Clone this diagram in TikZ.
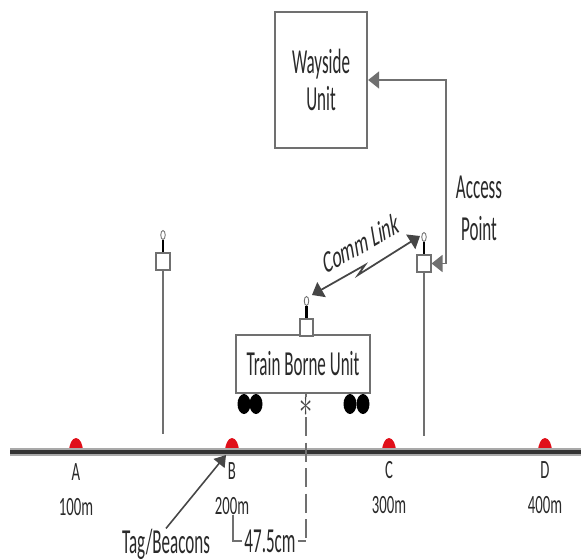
\documentclass[tikz,border=0pt]{standalone}
\usepackage{fontspec}
\setmainfont{Carlito}
\usetikzlibrary{arrows.meta,shapes.geometric}
\newcommand{\tallbig}[1]{\scalebox{0.485}[1]{\fontsize{20}{22}\selectfont #1}}
\newcommand{\tallsmall}[1]{\scalebox{0.56}[1]{\fontsize{15}{17}\selectfont #1}}
\definecolor{linegray}{HTML}{707070}
\definecolor{tipgray}{HTML}{464646}
\definecolor{inkgray}{HTML}{2A2A2A}
\definecolor{beaconred}{HTML}{E0101A}

\begin{document}
\begin{tikzpicture}[x=0.02cm, y=-0.02cm,
  unitbox/.style={draw=linegray, line width=1.3pt, fill=white, inner sep=0pt, align=center, text=inkgray},
  radiobox/.style={draw=linegray, line width=0.9pt, fill=white, inner sep=0pt, minimum width=0.27cm, minimum height=0.35cm},
  antennatip/.style={draw=linegray, line width=0.5pt, fill=white, ellipse, inner sep=0pt, minimum width=0.09cm, minimum height=0.18cm},
  txt/.style={inner sep=0pt, text=inkgray, align=center},
  link/.style={draw=linegray, line width=0.9pt},
  sig/.style={draw=tipgray, line width=1pt, {Triangle[length=2.2mm,width=3.4mm]}-{Triangle[length=2.2mm,width=3.4mm]}},
]
\useasboundingbox (0,0) rectangle (581,560);
% beacons
\fill[beaconred] (69,452) arc[x radius=7, y radius=14, start angle=180, end angle=360] -- cycle;
\fill[beaconred] (225,452) arc[x radius=7, y radius=14, start angle=180, end angle=360] -- cycle;
\fill[beaconred] (382,452) arc[x radius=7, y radius=14, start angle=180, end angle=360] -- cycle;
\fill[beaconred] (538,452) arc[x radius=7, y radius=14, start angle=180, end angle=360] -- cycle;
% track
\draw[linegray!60, line width=4.4pt] (10,452) -- (581,452);
\draw[black!80, line width=2.6pt] (10,452) -- (581,452);
% units
\node[unitbox, minimum width=1.84cm, minimum height=2.72cm] (wayside) at (321,80) {\tallbig{Wayside}\\[3pt]\tallbig{Unit}};
\node[unitbox, minimum width=2.68cm, minimum height=1.16cm] (trainunit) at (303,364) {\tallbig{Train Borne Unit}};
% wheels
\fill[black] (244,404) ellipse (6.5 and 10);
\fill[black] (256,404) ellipse (6.5 and 10);
\fill[black] (350,404) ellipse (6.5 and 10);
\fill[black] (363,404) ellipse (6.5 and 10);
% radios
\node[radiobox] (radioL) at (163,261.5) {};
\node[radiobox] (radioR) at (424,263.5) {};
\node[radiobox] (radioT) at (306.5,327.5) {};
\node[antennatip] (tipL) at (163,235) {};
\node[antennatip] (tipR) at (424,237) {};
\node[antennatip] (tipT) at (306.5,301) {};
\draw[black, line width=1.6pt] (radioL.north) -- (tipL.south);
\draw[black, line width=1.6pt] (radioR.north) -- (tipR.south);
\draw[black, line width=1.6pt] (radioT.north) -- (tipT.south);
% poles
\coordinate (footL) at (163,434);
\coordinate (footR) at (424,436);
\draw[link] (radioL.south) -- (footL);
\draw[link] (radioR.south) -- (footR);
% access point wiring
\coordinate (bendT) at (446,80);
\coordinate (bendB) at (446,263.5);
\draw[sig, draw=linegray] (wayside.east) -- (bendT) -- (bendB) -- (radioR.east);
% comm link
\coordinate (commT) at (312,295);
\coordinate (commM) at (365,265);
\coordinate (commN) at (358,275);
\coordinate (commR) at (420,236);
\draw[sig] (commT) -- (commM) -- (commN) -- (commR);
\node[txt, font=\fontsize{18}{20}\selectfont, xscale=0.55, rotate=17.3, transform shape] (commlabel) at (361,243) {Comm Link};
\node[txt] (apword) at (479,208) {\tallbig{Access}\\[9pt]\tallbig{Point}};
% centre line
\node[txt, text=tipgray] (axle) at (306,407) {\scalebox{1.5}[2.4]{$\ast$}};
\coordinate (dimR) at (306,541);
\coordinate (dimL) at (233,541);
\coordinate (dimU) at (233,515);
\draw[link, line width=0.7pt] (axle.north) -- (axle.north |- trainunit.south);
\draw[link, line width=0.7pt, dash pattern=on 11pt off 3.5pt] (axle.south) -- (dimR);
\node[txt, fill=white, inner xsep=1pt] (dimtext) at (270,541) {\tallbig{47.5cm}};
\draw[link, line width=0.7pt] (dimU) -- (dimL) -- (dimtext.west);
\draw[link, line width=0.7pt] (dimtext.east) -- (dimR);
% labels
\node[txt] (labA) at (76,472) {\tallsmall{A}};
\node[txt] (labB) at (232,471) {\tallsmall{B}};
\node[txt] (labC) at (389,470) {\tallsmall{C}};
\node[txt] (labD) at (545,470) {\tallsmall{D}};
\node[txt] (distA) at (76,507) {\tallsmall{100m}};
\node[txt] (distB) at (232,506) {\tallsmall{200m}};
\node[txt] (distC) at (389,505) {\tallsmall{300m}};
\node[txt] (distD) at (545,505) {\tallsmall{400m}};
\node[txt] (tag) at (166,544) {\tallbig{Tag/Beacons}};
\coordinate (tagtip) at (226,455);
\draw[link, -{Triangle[length=2.2mm,width=2.8mm]}, tipgray] (tag.north) -- (tagtip);
\end{tikzpicture}
\end{document}
